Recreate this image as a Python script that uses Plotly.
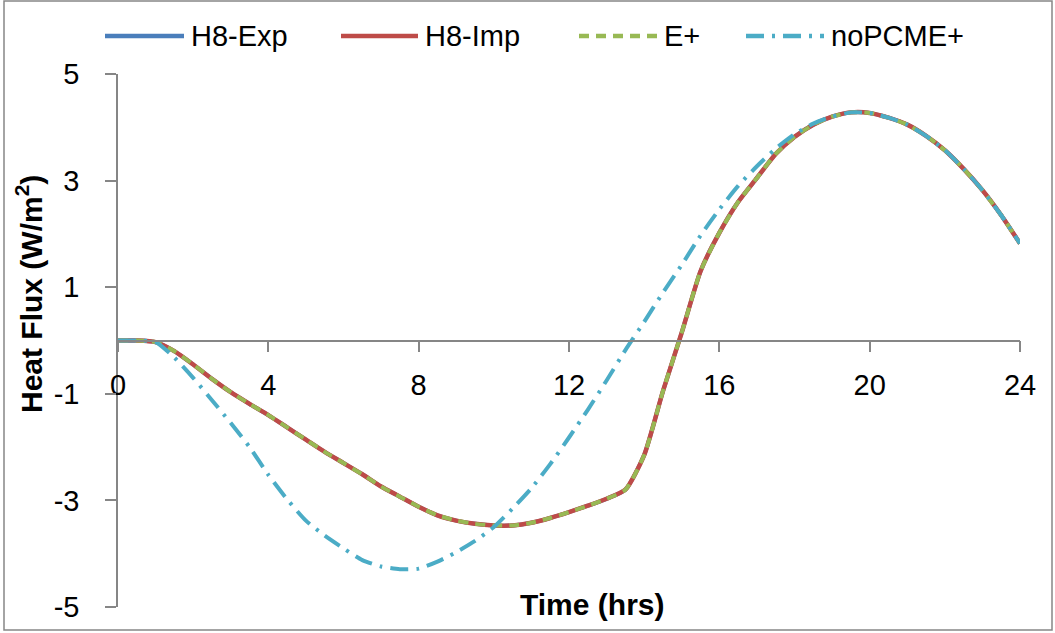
import plotly.graph_objects as go

# ---------------- data ----------------
hours = [0, 0.5, 1, 1.5, 2, 2.5, 3, 3.5, 4, 4.5, 5, 5.5, 6, 6.5, 7, 7.5, 8, 8.5,
         9, 9.5, 10, 10.5, 11, 11.5, 12, 12.5, 13, 13.5, 14, 14.5, 15, 15.5,
         16, 16.5, 17, 17.5, 18, 18.5, 19, 19.5, 20, 20.5, 21, 21.5, 22, 22.5,
         23, 23.5, 24]

h8_exp = [0, 0, -0.03, -0.2, -0.45, -0.72, -0.97, -1.19, -1.4, -1.63, -1.86,
          -2.09, -2.3, -2.51, -2.74, -2.93, -3.12, -3.28, -3.38, -3.44, -3.47,
          -3.47, -3.42, -3.33, -3.22, -3.1, -2.97, -2.8, -2.15, -0.95, 0.15,
          1.3, 2.02, 2.6, 3.05, 3.5, 3.82, 4.05, 4.2, 4.28, 4.27, 4.18, 4.05,
          3.84, 3.57, 3.22, 2.82, 2.35, 1.82]

h8_imp = [0, 0, -0.03, -0.2, -0.45, -0.72, -0.97, -1.19, -1.4, -1.63, -1.86,
          -2.09, -2.3, -2.51, -2.74, -2.93, -3.12, -3.28, -3.38, -3.44, -3.47,
          -3.47, -3.42, -3.33, -3.22, -3.1, -2.97, -2.8, -2.15, -0.95, 0.15,
          1.3, 2.02, 2.6, 3.05, 3.5, 3.82, 4.05, 4.2, 4.28, 4.27, 4.18, 4.05,
          3.84, 3.57, 3.22, 2.82, 2.35, 1.82]

e_plus = [0, 0, -0.03, -0.2, -0.45, -0.72, -0.97, -1.19, -1.4, -1.63, -1.86,
          -2.09, -2.3, -2.51, -2.74, -2.93, -3.12, -3.28, -3.38, -3.44, -3.47,
          -3.47, -3.42, -3.33, -3.22, -3.1, -2.97, -2.8, -2.15, -0.95, 0.15,
          1.3, 2.02, 2.6, 3.05, 3.5, 3.82, 4.05, 4.2, 4.28, 4.27, 4.18, 4.05,
          3.84, 3.57, 3.22, 2.82, 2.35, 1.82]

no_pcm_eplus = [0, 0, -0.03, -0.32, -0.7, -1.12, -1.55, -2.0, -2.52, -2.98,
                -3.38, -3.66, -3.9, -4.12, -4.24, -4.29, -4.28, -4.15, -3.97,
                -3.76, -3.5, -3.15, -2.77, -2.32, -1.82, -1.3, -0.75, -0.18,
                0.35, 0.9, 1.42, 1.97, 2.46, 2.9, 3.27, 3.6, 3.87, 4.07, 4.2,
                4.28, 4.27, 4.18, 4.05, 3.84, 3.57, 3.22, 2.82, 2.35, 1.82]

series_names = ["H8-Exp", "H8-Imp", "E+", "noPCME+"]
x_ticks = [0, 4, 8, 12, 16, 20, 24]
y_ticks = [-5, -3, -1, 1, 3, 5]

# ---------------- layout constants ----------------
W, H = 1055, 633
L, R, T, B = 118, 35, 74, 26
PW, PH = W - L - R, H - T - B
FONT = "Liberation Sans, Arial, sans-serif"
GRAY = "#868686"


def px2paper_x(px):
    return (px - L) / PW


def px2paper_y(py):
    return (H - B - py) / PH


fig = go.Figure()

styles = [
    dict(color="#4a7ebb", width=4, dash="solid"),
    dict(color="#be4b48", width=4.5, dash="solid"),
    dict(color="#98b954", width=4, dash="10px,7px"),
    dict(color="#4bacc6", width=4, dash="18px,8px,3px,8px"),
]
values = [h8_exp, h8_imp, e_plus, no_pcm_eplus]

for name, vals, st in zip(series_names, values, styles):
    fig.add_trace(go.Scatter(
        x=hours, y=vals, mode="lines", name=name, showlegend=False,
        line=dict(color=st["color"], width=st["width"], dash=st["dash"],
                  shape="spline", smoothing=0.6),
    ))

# ---------------- custom legend (long line samples like the original) ----------------
legend_line_px = [(105, 184), (341, 418), (579, 657), (746, 824)]
legend_y_px = 36
shapes = []
annotations = []
for name, st, (lx0, lx1) in zip(series_names, styles, legend_line_px):
    shapes.append(dict(type="line", xref="paper", yref="paper",
                       x0=px2paper_x(lx0), x1=px2paper_x(lx1),
                       y0=px2paper_y(legend_y_px), y1=px2paper_y(legend_y_px),
                       line=dict(color=st["color"], width=4.5, dash=st["dash"])))
    annotations.append(dict(text=name, x=px2paper_x(lx1 + 5),
                            y=px2paper_y(legend_y_px), xref="paper", yref="paper",
                            showarrow=False, xanchor="left", yanchor="middle",
                            font=dict(family=FONT, size=29, color="#000000")))

annotations += [
    dict(text="<b>Time (hrs)</b>", x=px2paper_x(592), y=px2paper_y(604),
         xref="paper", yref="paper", showarrow=False,
         xanchor="center", yanchor="middle",
         font=dict(family=FONT, size=30, color="#000000")),
    dict(text="<b>Heat Flux (W/m<sup>2</sup>)</b>", x=px2paper_x(29),
         y=px2paper_y(294), xref="paper", yref="paper", showarrow=False,
         textangle=-90, xanchor="center", yanchor="middle",
         font=dict(family=FONT, size=30, color="#000000")),
]

shapes.append(dict(type="rect", xref="paper", yref="paper",
                   x0=px2paper_x(4), x1=px2paper_x(W - 3),
                   y0=px2paper_y(H - 3), y1=px2paper_y(1),
                   line=dict(color=GRAY, width=1.5), fillcolor="rgba(0,0,0,0)",
                   layer="below"))

fig.update_layout(
    width=W, height=H,
    margin=dict(l=L, r=R, t=T, b=B, autoexpand=False),
    paper_bgcolor="white", plot_bgcolor="white",
    showlegend=False,
    font=dict(family=FONT, size=29, color="#000000"),
    xaxis=dict(
        range=[0, 24], tickvals=x_ticks, ticktext=[str(v) for v in x_ticks],
        showgrid=False, zeroline=False, showline=True, linecolor=GRAY,
        linewidth=1.5, ticks="outside", ticklen=11, tickcolor=GRAY, tickwidth=1.5,
        anchor="free", position=0.5, ticklabelstandoff=8, automargin=False,
        tickfont=dict(family=FONT, size=29, color="#000000"),
    ),
    yaxis=dict(
        range=[-5, 5], tickvals=y_ticks, ticktext=[str(v) for v in y_ticks],
        showgrid=False, zeroline=False, showline=True, linecolor=GRAY,
        linewidth=1.5, ticks="outside", ticklen=11, tickcolor=GRAY, tickwidth=1.5,
        ticklabelstandoff=20, automargin=False,
        tickfont=dict(family=FONT, size=29, color="#000000"),
    ),
    annotations=annotations,
    shapes=shapes,
)

fig.write_html(
    "out.html",
    config={"displayModeBar": False},
    post_script="document.body.style.margin='0';document.body.style.padding='0';",
)
